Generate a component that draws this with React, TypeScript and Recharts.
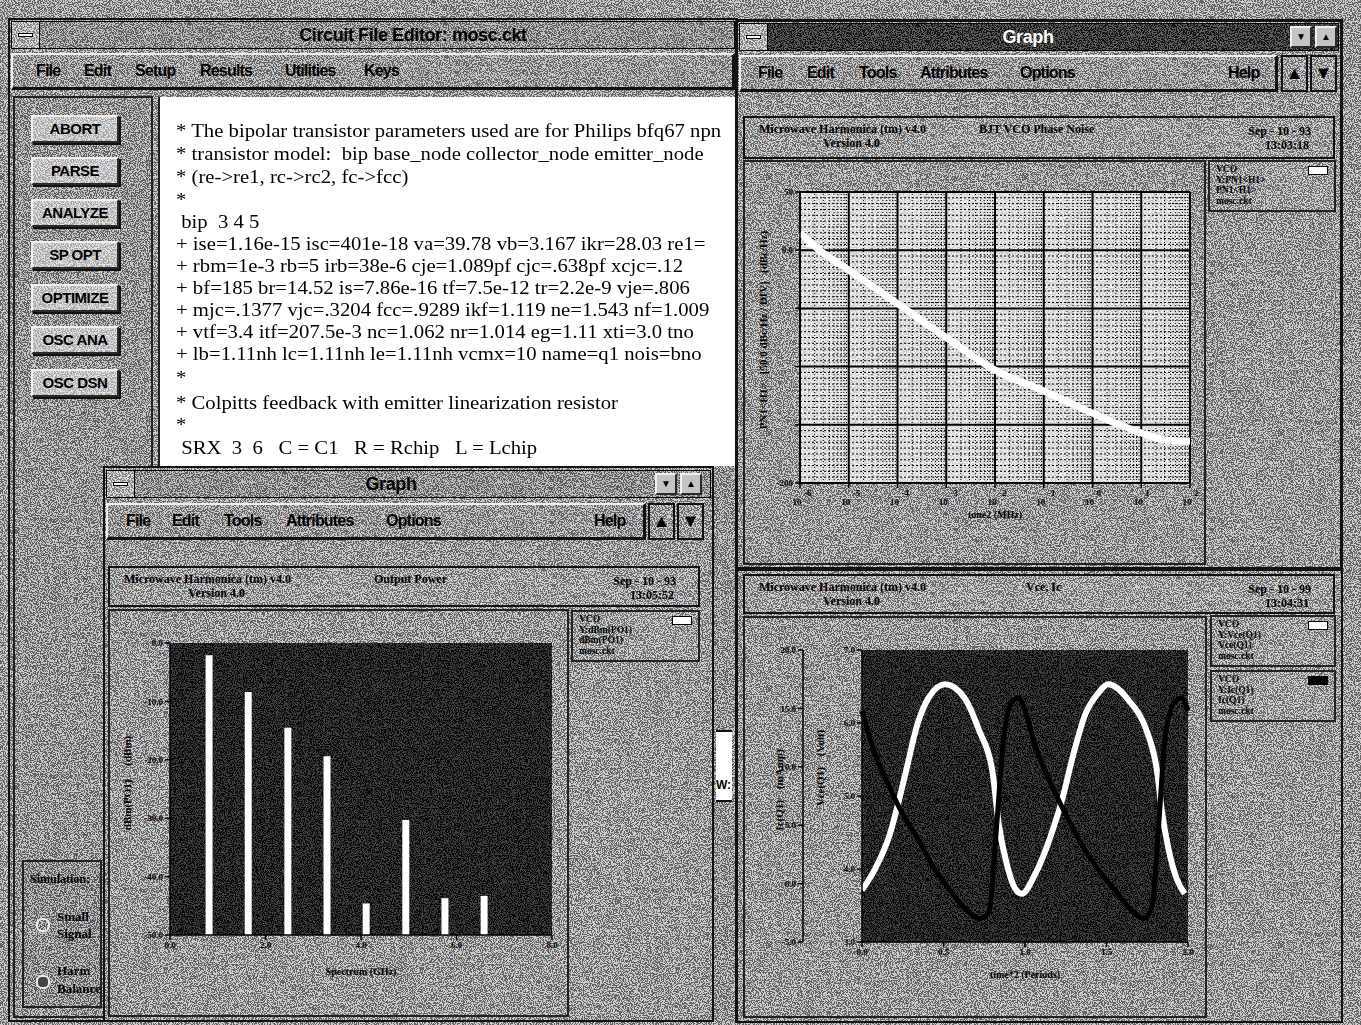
import React from 'react';
import {
  LineChart,
  Line,
  BarChart,
  Bar,
  XAxis,
  YAxis,
  CartesianGrid,
  ReferenceLine,
} from 'recharts';

// --- BJT VCO phase noise (top right graph)
const toneMHz = [1e-6, 2.5e-6, 1e-5, 1e-4, 1e-3, 1e-2, 1e-1, 1, 3.6, 10, 31.6, 100];
const pn1H1 = [15, 0, -17, -46, -75, -103, -121, -140, -150, -157, -163, -164];
const decadeTicks = [1e-6, 1e-5, 1e-4, 1e-3, 1e-2, 1e-1, 1, 10, 100];
const pnTicks = [-200, -150, -100, -50, 0, 50];
const pnTickLabels = ['-200', '', '', '', '0.0', '50'];

// --- Output power spectrum (bottom left graph)
const spectrumGHz = [0.82, 1.64, 2.47, 3.29, 4.11, 4.94, 5.76, 6.58];
const dbmPO1 = [-2.1, -8.4, -14.5, -19.4, -44.6, -30.3, -43.7, -43.3];
const spectrumTicks = [0, 2, 4, 6, 8];
const dbmTicks = [-50, -40, -30, -20, -10, 0];

// --- Vce, Ic waveforms (bottom right graph)
const vceTime = [0, 0.08, 0.17, 0.22, 0.27, 0.34, 0.41, 0.51, 0.63, 0.72, 0.8, 0.84, 0.89, 0.94, 0.98,
  1.06, 1.13, 1.18, 1.23, 1.3, 1.37, 1.45, 1.51, 1.64, 1.74, 1.81, 1.84, 1.88, 1.93, 1.98];
const vceQ1 = [3.71, 4.0, 4.47, 4.88, 5.34, 5.98, 6.35, 6.53, 6.34, 5.89, 5.34, 4.6, 4.05, 3.73, 3.66,
  3.92, 4.28, 4.6, 4.97, 5.6, 6.12, 6.41, 6.53, 6.3, 5.93, 5.34, 4.79, 4.28, 3.87, 3.66];
const icTime = [0, 0.06, 0.16, 0.24, 0.34, 0.43, 0.53, 0.63, 0.72, 0.78, 0.82, 0.87, 0.92, 0.96, 1.0,
  1.06, 1.16, 1.24, 1.35, 1.46, 1.56, 1.66, 1.73, 1.78, 1.82, 1.86, 1.92, 1.96, 2.0];
const icQ1 = [14.8, 11.9, 8.5, 6.2, 3.9, 1.6, -0.4, -2.1, -3.0, -2.4, 3.9, 12.5, 15.6, 15.9, 14.8,
  11.9, 8.5, 6.2, 3.3, 1.0, -0.7, -2.4, -3.0, -1.85, 5.0, 12.5, 15.6, 15.9, 14.8];
const periodTicks = [0, 0.5, 1, 1.5, 2];
const vceTicks = [3, 4, 5, 6, 7];
const icTicks = [-5, 0, 5, 10, 15, 20];

const pnData = toneMHz.map((f, i) => ({ f, pn: pn1H1[i] }));
const barData = spectrumGHz.map((ghz, i) => ({ ghz, dbm: dbmPO1[i] }));
const vceData = vceTime.map((t, i) => ({ t, v: vceQ1[i] }));
const icData = icTime.map((t, i) => ({ t, ic: icQ1[i] }));

// minor grid of the log plot
const minorX: number[] = [];
decadeTicks.slice(0, -1).forEach((d) => {
  for (let k = 2; k <= 9; k++) minorX.push(d * k);
});
const minorY: number[] = [];
for (let v = -195; v < 50; v += 5) if (v % 50 !== 0) minorY.push(v);

const SANS = '"Liberation Sans", Arial, sans-serif';
const SERIF = '"Liberation Serif", "DejaVu Serif", serif';

const noiseSvg =
  "<svg xmlns='http://www.w3.org/2000/svg' width='256' height='256'>" +
  "<filter id='n' x='0' y='0' width='100%' height='100%'>" +
  "<feTurbulence type='fractalNoise' baseFrequency='0.9' numOctaves='1' seed='4' stitchTiles='stitch'/>" +
  "<feColorMatrix type='saturate' values='0'/>" +
  "<feComponentTransfer><feFuncR type='discrete' tableValues='0 1'/><feFuncG type='discrete' tableValues='0 1'/>" +
  "<feFuncB type='discrete' tableValues='0 1'/><feFuncA type='table' tableValues='1 1'/></feComponentTransfer>" +
  "</filter><rect width='256' height='256' filter='url(#n)'/></svg>";
const NOISE_URI = `data:image/svg+xml,${encodeURIComponent(noiseSvg)}`;
const NOISE = `url("${NOISE_URI}")`;

const grain = (rgb: string, a: number) => ({
  backgroundImage: `linear-gradient(rgba(${rgb},${a}), rgba(${rgb},${a})), ${NOISE}`,
});

const abs = (left: number, top: number, width: number, height: number) => ({
  position: 'absolute' as const,
  left,
  top,
  width,
  height,
  boxSizing: 'border-box' as const,
});

const tickStyle = { fill: '#000', fontSize: 9, fontFamily: SERIF, fontWeight: 700 };
const axisStroke = { stroke: '#000', strokeWidth: 1.5 };

// shared svg patterns used as plot backgrounds
function Patterns() {
  return (
    <svg width={0} height={0} style={{ position: 'absolute' }}>
      <defs>
        <pattern id="darkGrain" patternUnits="userSpaceOnUse" width={256} height={256}>
          <rect width={256} height={256} fill="#0c0c0c" />
          <image href={NOISE_URI} width={256} height={256} opacity={0.2} />
        </pattern>
        <pattern id="lightGrain" patternUnits="userSpaceOnUse" width={256} height={256}>
          <rect width={256} height={256} fill="#eeeeee" />
          <image href={NOISE_URI} width={256} height={256} opacity={0.14} />
        </pattern>
      </defs>
    </svg>
  );
}

const LogTick = (props: any) => {
  const { x, y, payload } = props;
  const exp = Math.round(Math.log10(payload.value));
  return (
    <g transform={`translate(${x},${y})`}>
      <text x={-3} y={15} textAnchor="middle" fontSize={9} fontWeight={700} fontFamily={SERIF} fill="#000">
        10
      </text>
      <text x={4} y={6} fontSize={9} fontWeight={700} fontFamily={SERIF} fill="#000">
        {exp}
      </text>
    </g>
  );
};

function RotLabel({ cx, cy, text }: { cx: number; cy: number; text: string }) {
  return (
    <div
      style={{
        position: 'absolute',
        left: cx,
        top: cy,
        transform: 'translate(-50%, -50%) rotate(-90deg)',
        whiteSpace: 'pre',
        font: `bold 11px ${SERIF}`,
        color: '#000',
      }}
    >
      {text}
    </div>
  );
}

function PhaseNoiseChart() {
  return (
    <div style={{ position: 'absolute', left: 745, top: 165 }}>
      <LineChart width={460} height={355} data={pnData} margin={{ top: 27, right: 15, bottom: 0, left: 0 }}>
        <CartesianGrid fill="url(#lightGrain)" horizontal={false} vertical={false} />
        {minorX.map((v) => (
          <ReferenceLine key={'mx' + v} x={v} stroke="#000" strokeWidth={1} strokeDasharray="1 2" />
        ))}
        {minorY.map((v) => (
          <ReferenceLine key={'my' + v} y={v} stroke="#000" strokeWidth={1} strokeDasharray="2 2" />
        ))}
        {decadeTicks.map((v) => (
          <ReferenceLine key={'MX' + v} x={v} stroke="#000" strokeWidth={2} />
        ))}
        {pnTicks.map((v) => (
          <ReferenceLine key={'MY' + v} y={v} stroke="#000" strokeWidth={2} />
        ))}
        <XAxis
          dataKey="f"
          type="number"
          scale="log"
          domain={[1e-6, 100]}
          ticks={decadeTicks}
          tick={(p: any) => <LogTick {...p} />}
          tickSize={5}
          tickMargin={2}
          height={37}
          axisLine={axisStroke}
          tickLine={axisStroke}
          interval={0}
          label={{ value: 'tone2  (MHz)', position: 'insideBottom', offset: 2, style: { ...tickStyle, fontSize: 10 } }}
        />
        <YAxis
          type="number"
          domain={[-200, 50]}
          ticks={pnTicks}
          tickFormatter={(v: number) => pnTickLabels[pnTicks.indexOf(v)]}
          width={55}
          tick={tickStyle}
          tickSize={5}
          axisLine={axisStroke}
          tickLine={axisStroke}
          interval={0}
        />
        <Line
          dataKey="pn"
          type="monotone"
          stroke="#ffffff"
          strokeWidth={7}
          dot={false}
          isAnimationActive={false}
        />
      </LineChart>
    </div>
  );
}

function OutputPowerChart() {
  return (
    <div style={{ position: 'absolute', left: 112, top: 615 }}>
      <BarChart width={450} height={370} data={barData} margin={{ top: 28, right: 10, bottom: 0, left: 0 }}>
        <CartesianGrid fill="url(#darkGrain)" horizontal={false} vertical={false} />
        <XAxis
          dataKey="ghz"
          type="number"
          domain={[0, 8]}
          ticks={spectrumTicks}
          tickFormatter={(v: number) => v.toFixed(1)}
          tick={tickStyle}
          tickSize={5}
          height={50}
          axisLine={axisStroke}
          tickLine={axisStroke}
          interval={0}
          label={{ value: 'Spectrum  (GHz)', position: 'insideBottom', offset: 10, style: { ...tickStyle, fontSize: 10 } }}
        />
        <YAxis
          type="number"
          domain={[-50, 0]}
          ticks={dbmTicks}
          tickFormatter={(v: number) => v.toFixed(1)}
          width={58}
          tick={tickStyle}
          tickSize={5}
          axisLine={axisStroke}
          tickLine={axisStroke}
          interval={0}
        />
        <Bar dataKey={(d: any) => [-50, d.dbm]} fill="#ffffff" barSize={7} isAnimationActive={false} />
      </BarChart>
    </div>
  );
}

function WaveformChart() {
  return (
    <div style={{ position: 'absolute', left: 750, top: 622 }}>
      <LineChart width={448} height={370} margin={{ top: 28, right: 10, bottom: 0, left: 0 }}>
        <CartesianGrid yAxisId="a" fill="url(#darkGrain)" horizontal={false} vertical={false} />
        <XAxis
          dataKey="t"
          type="number"
          domain={[0, 2]}
          ticks={periodTicks}
          tickFormatter={(v: number) => v.toFixed(1)}
          tick={tickStyle}
          tickSize={5}
          height={50}
          axisLine={axisStroke}
          tickLine={axisStroke}
          interval={0}
          allowDuplicatedCategory={false}
          label={{ value: 'time*2  (Periods)', position: 'insideBottom', offset: 14, style: { ...tickStyle, fontSize: 10 } }}
        />
        {/* Vce axis sits against the plot, Ic axis outside it */}
        <YAxis
          yAxisId="a"
          type="number"
          domain={[3, 7]}
          ticks={vceTicks}
          tickFormatter={(v: number) => v.toFixed(1)}
          width={59}
          tick={tickStyle}
          tickSize={5}
          axisLine={axisStroke}
          tickLine={axisStroke}
          interval={0}
        />
        <YAxis
          yAxisId="b"
          type="number"
          domain={[-5, 20]}
          ticks={icTicks}
          tickFormatter={(v: number) => v.toFixed(1)}
          width={53}
          tick={tickStyle}
          tickSize={5}
          axisLine={axisStroke}
          tickLine={axisStroke}
          interval={0}
        />
        <Line
          yAxisId="a"
          data={vceData}
          dataKey="v"
          type="monotone"
          stroke="#ffffff"
          strokeWidth={6}
          dot={false}
          isAnimationActive={false}
        />
        <Line
          yAxisId="b"
          data={icData}
          dataKey="ic"
          type="monotone"
          stroke="#000000"
          strokeWidth={5}
          dot={false}
          isAnimationActive={false}
        />
      </LineChart>
    </div>
  );
}

const raised = {
  borderTop: '2px solid #efefef',
  borderLeft: '2px solid #efefef',
  borderRight: '2px solid #2a2a2a',
  borderBottom: '2px solid #2a2a2a',
};

function TitleBar({ x, y, w, title, titleX, active }: { x: number; y: number; w: number; title: string; titleX: number; active?: boolean }) {
  return (
    <div style={{ ...abs(x, y, w, 28), ...(active ? grain('30,30,30', 0.72) : grain('150,150,150', 0.62)), border: '1px solid #000' }}>
      <div style={{ ...abs(0, 0, 28, 26), borderRight: '1px solid #000', ...grain('200,200,200', 0.65) }}>
        <div style={{ ...abs(6, 11, 15, 4), background: '#fff', border: '1px solid #000' }} />
      </div>
      <div
        style={{
          position: 'absolute',
          left: titleX - x,
          top: 3,
          transform: 'translateX(-50%)',
          whiteSpace: 'pre',
          font: `bold 18px ${SANS}`,
          letterSpacing: -0.4,
          color: active ? '#fff' : '#000',
        }}
      >
        {title}
      </div>
    </div>
  );
}

function MinMax({ x, y }: { x: number; y: number }) {
  return (
    <>
      <div style={{ ...abs(x, y, 22, 22), ...raised, background: '#c4c4c4', textAlign: 'center', font: `bold 10px ${SANS}`, lineHeight: '18px' }}>▼</div>
      <div style={{ ...abs(x + 25, y, 22, 22), ...raised, background: '#c4c4c4', textAlign: 'center', font: `bold 10px ${SANS}`, lineHeight: '18px' }}>▲</div>
    </>
  );
}

function MenuBar({ x, y, w, items }: { x: number; y: number; w: number; items: [number, string][] }) {
  return (
    <div style={{ ...abs(x, y, w, 37), ...raised, ...grain('165,165,165', 0.62), borderBottom: '3px solid #111', borderRight: '3px solid #111' }}>
      {items.map(([ix, label]) => (
        <div
          key={label}
          style={{ position: 'absolute', left: ix - x, top: 7, font: `bold 16px ${SANS}`, letterSpacing: -0.8, color: '#000' }}
        >
          {label}
        </div>
      ))}
    </div>
  );
}

function ArrowBtn({ x, y, up }: { x: number; y: number; up?: boolean }) {
  return (
    <div
      style={{
        ...abs(x, y, 27, 37),
        ...grain('175,175,175', 0.62),
        border: '2px solid #111',
        textAlign: 'center',
        font: `bold 18px ${SANS}`,
        lineHeight: '32px',
      }}
    >
      {up ? '▲' : '▼'}
    </div>
  );
}

function HeaderBox({ x, y, h, title, titleX, date, time }: { x: number; y: number; h: number; title: string; titleX: number; date: string; time: string }) {
  const t = { position: 'absolute' as const, font: `bold 12px ${SERIF}`, color: '#000', whiteSpace: 'pre' as const };
  return (
    <div style={{ ...abs(x, y, 592, h), border: '2px solid #111', ...grain('175,175,175', 0.62) }}>
      <div style={{ ...t, left: 14, top: 4 }}>Microwave Harmonica (tm) v4.0</div>
      <div style={{ ...t, left: 78, top: 18 }}>Version 4.0</div>
      <div style={{ ...t, left: titleX - x, top: 4 }}>{title}</div>
      <div style={{ ...t, right: 22, top: 6 }}>{date}</div>
      <div style={{ ...t, right: 24, top: 20 }}>{time}</div>
    </div>
  );
}

function LegendBox({ x, y, w, lines, swatch }: { x: number; y: number; w: number; lines: string[]; swatch: string }) {
  return (
    <div style={{ ...abs(x, y, w, 52), border: '2px solid #222', ...grain('175,175,175', 0.62) }}>
      {lines.map((l, i) => (
        <div key={i} style={{ position: 'absolute', left: 6, top: 2 + i * 10.5, font: `bold 9.5px ${SERIF}`, lineHeight: '10px', color: '#000', whiteSpace: 'pre' }}>
          {l}
        </div>
      ))}
      <div style={{ ...abs(w - 30, 4, 20, 9), background: swatch, border: '1px solid #000' }} />
    </div>
  );
}

// text visible in the editor (cut at the window edge as in the screenshot)
const editorLines: [number, string][] = [
  [131, '* The bipolar transistor parameters used are for Philips bfq67 npn'],
  [154, '* transistor model:  bip base_node collector_node emitter_node'],
  [177, '* (re->re1, rc->rc2, fc->fcc)'],
  [200, '*'],
  [222, ' bip  3 4 5'],
  [244, '+ ise=1.16e-15 isc=401e-18 va=39.78 vb=3.167 ikr=28.03 re1='],
  [266, '+ rbm=1e-3 rb=5 irb=38e-6 cje=1.089pf cjc=.638pf xcjc=.12'],
  [288, '+ bf=185 br=14.52 is=7.86e-16 tf=7.5e-12 tr=2.2e-9 vje=.806'],
  [310, '+ mjc=.1377 vjc=.3204 fcc=.9289 ikf=1.119 ne=1.543 nf=1.009'],
  [332, '+ vtf=3.4 itf=207.5e-3 nc=1.062 nr=1.014 eg=1.11 xti=3.0 tno'],
  [354, '+ lb=1.11nh lc=1.11nh le=1.11nh vcmx=10 name=q1 nois=bno'],
  [378, '*'],
  [403, '* Colpitts feedback with emitter linearization resistor'],
  [425, '*'],
  [448, ' SRX  3  6   C = C1   R = Rchip   L = Lchip'],
];

const buttons: [number, string][] = [
  [129, 'ABORT'],
  [171, 'PARSE'],
  [213, 'ANALYZE'],
  [255, 'SP OPT'],
  [298, 'OPTIMIZE'],
  [340, 'OSC ANA'],
  [383, 'OSC DSN'],
];

export default function App() {
  return (
    <div
      style={{
        ...abs(0, 0, 1361, 1025),
        overflow: 'hidden',
        background: '#a6a6a6',
        ...grain('168,168,168', 0.6),
      }}
    >
      <Patterns />
      {/* ---------- Circuit File Editor ---------- */}
      <div style={{ ...abs(8, 18, 730, 1004), border: '2px solid #111' }} />
      <TitleBar x={11} y={21} w={724} title="Circuit File Editor: mosc.ckt" titleX={412} />
      <MenuBar
        x={11}
        y={53}
        w={724}
        items={[
          [34, 'File'],
          [82, 'Edit'],
          [133, 'Setup'],
          [198, 'Results'],
          [283, 'Utilities'],
          [362, 'Keys'],
        ]}
      />
      <div style={{ ...abs(13, 96, 140, 922), border: '2px solid #222', ...grain('160,160,160', 0.6) }} />
      {buttons.map(([y, label]) => (
        <div
          key={label}
          style={{
            ...abs(31, y - 14, 88, 28),
            ...raised,
            boxShadow: '2px 2px 0 #111',
            ...grain('215,215,215', 0.78),
            textAlign: 'center',
            font: `bold 15px ${SANS}`,
            letterSpacing: -0.5,
            lineHeight: '24px',
            color: '#000',
          }}
        >
          {label}
        </div>
      ))}
      <div style={{ ...abs(22, 860, 80, 148), border: '2px solid #222', ...grain('150,150,150', 0.6) }}>
        <div style={{ position: 'absolute', left: 6, top: 10, font: `bold 12px ${SERIF}` }}>Simulation:</div>
        <div style={{ position: 'absolute', left: 12, top: 56, width: 10, height: 10, borderRadius: 6, border: '2px solid #eee' }} />
        <div style={{ position: 'absolute', left: 33, top: 46, font: `bold 13px ${SERIF}`, lineHeight: '17px' }}>
          Small
          <br />
          Signal
        </div>
        <div style={{ position: 'absolute', left: 12, top: 113, width: 10, height: 10, borderRadius: 6, border: '2px solid #eee', background: '#444' }} />
        <div style={{ position: 'absolute', left: 33, top: 100, font: `bold 13px ${SERIF}`, lineHeight: '18px' }}>
          Harm
          <br />
          Balance
        </div>
      </div>
      <div style={{ ...abs(158, 97, 578, 921), background: '#ffffff', borderLeft: '2px solid #222', overflow: 'hidden' }}>
        {editorLines.map(([y, text], i) => (
          <div
            key={i}
            style={{
              position: 'absolute',
              left: 16,
              top: y - 97 - 10,
              font: `18.5px ${SERIF}`,
              lineHeight: '20px',
              whiteSpace: 'pre',
              color: '#000',
              transform: 'scaleX(1.12)',
              transformOrigin: '0 50%',
            }}
          >
            {text}
          </div>
        ))}
      </div>
      {/* strip of a window hidden behind the graphs */}
      <div style={{ ...abs(712, 466, 25, 556), ...grain('160,160,160', 0.6), borderLeft: '2px solid #111' }} />
      <div style={{ ...abs(716, 730, 16, 72), background: '#fff', borderTop: '2px solid #111', borderBottom: '2px solid #111' }}>
        <div style={{ position: 'absolute', left: 0, top: 46, font: `bold 12px ${SANS}` }}>W:</div>
      </div>

      {/* ---------- Graph window: output power ---------- */}
      <div style={{ ...abs(103, 466, 611, 556), border: '2px solid #111', ...grain('168,168,168', 0.6) }} />
      <TitleBar x={106} y={470} w={605} title="Graph" titleX={390} />
      <MinMax x={655} y={473} />
      <MenuBar
        x={106}
        y={503}
        w={540}
        items={[
          [124, 'File'],
          [170, 'Edit'],
          [222, 'Tools'],
          [284, 'Attributes'],
          [384, 'Options'],
          [592, 'Help'],
        ]}
      />
      <ArrowBtn x={648} y={503} up />
      <ArrowBtn x={677} y={503} />
      <HeaderBox x={108} y={566} h={41} title="Output Power" titleX={372} date="Sep - 10 - 93" time="13:05:52" />
      <div style={{ ...abs(108, 609, 461, 408), border: '2px solid #222' }} />
      <LegendBox x={571} y={610} w={129} lines={['VCO', 'Y:dBm(PO1)', 'dBm(PO1)', 'mosc.ckt']} swatch="#fff" />
      <OutputPowerChart />
      <RotLabel cx={127} cy={783} text={'dBm(PO1)     (dBm)'} />

      {/* ---------- Graph window: phase noise ---------- */}
      <div style={{ ...abs(735, 19, 608, 551), border: '3px solid #111' }} />
      <TitleBar x={739} y={23} w={600} title="Graph" titleX={1027} active />
      <MinMax x={1290} y={26} />
      <MenuBar
        x={739}
        y={55}
        w={539}
        items={[
          [756, 'File'],
          [805, 'Edit'],
          [857, 'Tools'],
          [918, 'Attributes'],
          [1018, 'Options'],
          [1226, 'Help'],
        ]}
      />
      <ArrowBtn x={1281} y={55} up />
      <ArrowBtn x={1310} y={55} />
      <HeaderBox x={743} y={116} h={43} title="BJT VCO Phase Noise" titleX={977} date="Sep - 10 - 93" time="13:03:18" />
      <div style={{ ...abs(743, 160, 463, 405), border: '2px solid #222' }} />
      <LegendBox x={1208} y={160} w={128} lines={['VCO', 'Y:PN1<H1>', 'PN1<H1>', 'mosc.ckt']} swatch="#fff" />
      <PhaseNoiseChart />
      <RotLabel cx={763} cy={330} text={'PN1<H1>   [50.0 dBc/Hz / DIV]   (dBc/Hz)'} />

      {/* ---------- Graph window: Vcc, Ic ---------- */}
      <div style={{ ...abs(735, 569, 608, 454), border: '2px solid #111' }} />
      <HeaderBox x={743} y={574} h={40} title="Vce, Ic" titleX={1024} date="Sep - 10 - 99" time="13:04:31" />
      <div style={{ ...abs(743, 616, 464, 402), border: '2px solid #222' }} />
      <LegendBox x={1210} y={615} w={126} lines={['VCO', 'Y:Vce(Q1)', 'Vce(Q1)', 'mosc.ckt']} swatch="#fff" />
      <LegendBox x={1210} y={670} w={126} lines={['VCO', 'Y:Ic(Q1)', 'Ic(Q1)', 'mosc.ckt']} swatch="#000" />
      <WaveformChart />
      <RotLabel cx={779} cy={790} text={'Ic(Q1)    (mAmp)'} />
      <RotLabel cx={820} cy={768} text={'Vce(Q1)    (Volt)'} />
    </div>
  );
}
